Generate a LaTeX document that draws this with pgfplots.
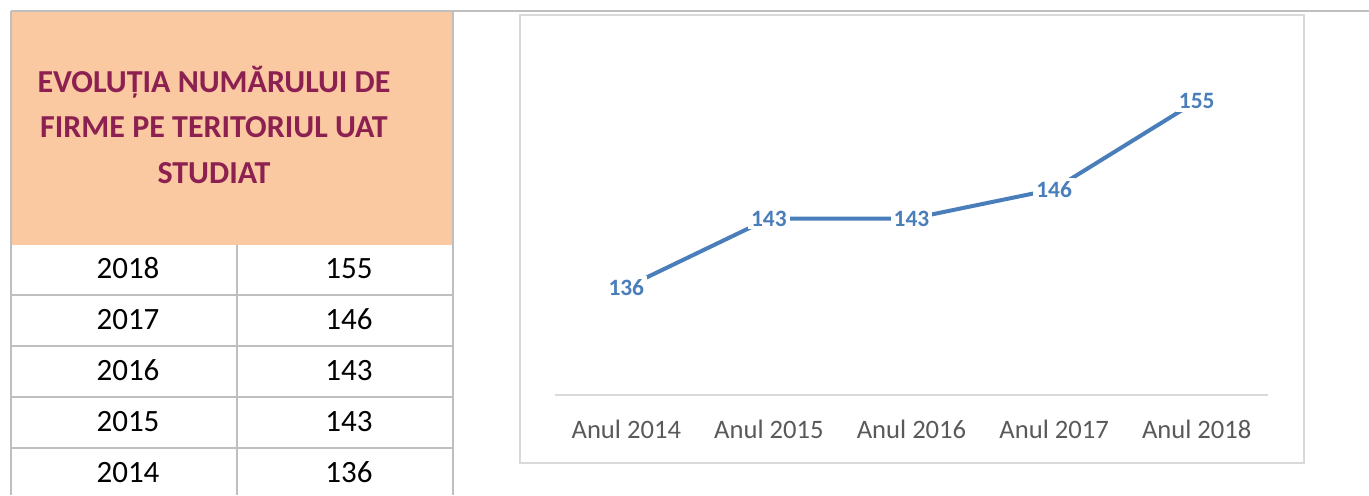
\documentclass[border=0pt]{standalone}
\usepackage{fontspec}
\setmainfont{Carlito}
\usepackage{pgfplots}
\pgfplotsset{compat=1.18}
\definecolor{peach}{HTML}{FAC8A1}
\definecolor{titlered}{HTML}{8C2151}
\definecolor{gridgray}{HTML}{BFBFBF}
\definecolor{framegray}{HTML}{D9D9D9}
\definecolor{lineblue}{HTML}{4A7EBB}
\definecolor{ticktext}{HTML}{595959}
\begin{document}
\begin{tikzpicture}
\begin{scope}[x=0.5pt,y=-0.5pt,shift={(0,247.5pt)}]
\useasboundingbox (0,0) rectangle (1369,495);
% header fill
\fill[peach] (11,11) rectangle (453,245);
% table grid
\draw[gridgray,line width=0.9pt] (11,11) -- (1369,11);
\draw[gridgray,line width=0.9pt] (11,11) -- (11,495);
\draw[gridgray,line width=0.9pt] (453,11) -- (453,495);
\draw[gridgray,line width=0.9pt] (237,245) -- (237,495);
\foreach \yy in {295,346,397,448}{
  \draw[gridgray,line width=0.9pt] (11,\yy) -- (453,\yy);
}
% title
\foreach \yy/\tt in {92/{EVOLUȚIA NUMĂRULUI DE},137/{FIRME PE TERITORIUL UAT},183/{STUDIAT}}{
  \node[anchor=base,inner sep=0pt,text=titlered,font=\fontsize{16}{19}\selectfont\bfseries] at (214,\yy) {\tt};
}
% rows
\foreach \yy/\a/\b in {278/2018/155,329/2017/146,380/2016/143,431/2015/143,482/2014/136}{
  \node[anchor=base,inner sep=0pt,font=\fontsize{15.5}{18}\selectfont] at (128,\yy) {\a};
  \node[anchor=base,inner sep=0pt,font=\fontsize{15.5}{18}\selectfont] at (349,\yy) {\b};
}
% chart frame
\draw[framegray,line width=0.7pt] (520,15) rectangle (1304,463);
\end{scope}
\begin{axis}[
  at={(277.5pt,50pt)}, anchor=south west,
  scale only axis, width=356.5pt, height=171.5pt,
  xmin=-0.5, xmax=4.5, ymin=125, ymax=160,
  clip=false,
  axis x line*=bottom, axis y line=none,
  x axis line style={framegray,line width=0.9pt,-},
  xtick={0,1,2,3,4},
  xticklabels={Anul 2014,Anul 2015,Anul 2016,Anul 2017,Anul 2018},
  major tick length=0pt,
  xtick style={draw=none},
  ytick=\empty,
  xticklabel style={anchor=base,yshift=-21.5pt,text=ticktext,font=\fontsize{13.3}{16}\selectfont},
  /pgf/number format/assume math mode=true,
  nodes near coords,
  nodes near coords style={anchor=center,fill=white,inner sep=1.5pt,text=lineblue,font=\fontsize{11.7}{14}\selectfont\bfseries},
]
\addplot[lineblue,line width=2pt,mark=none] coordinates {(0,136) (1,143) (2,143) (3,146) (4,155)};
\end{axis}
\end{tikzpicture}
\end{document}
